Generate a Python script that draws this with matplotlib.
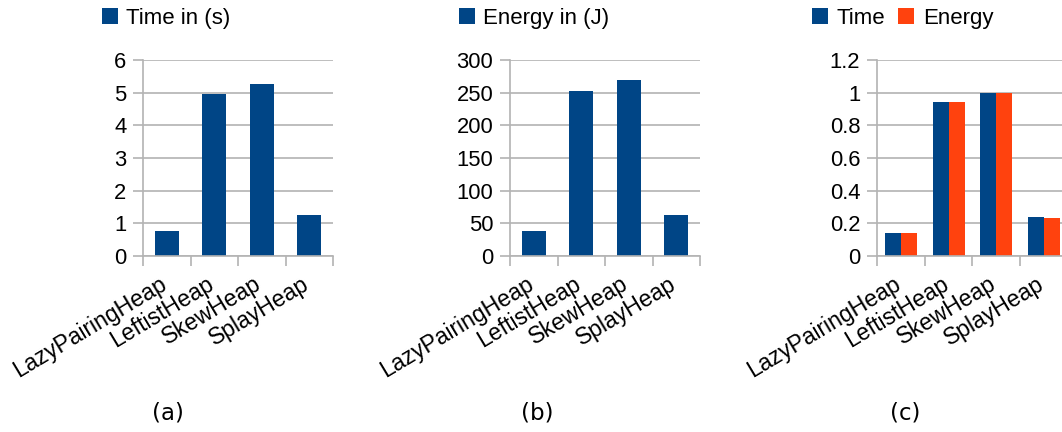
import matplotlib
matplotlib.use("Agg")
import matplotlib.pyplot as plt
import numpy as np

# data
heaps = ["LazyPairingHeap", "LeftistHeap", "SkewHeap", "SplayHeap"]
time_s = [0.77, 4.96, 5.26, 1.26]
energy_j = [38, 252, 269, 63]
time_norm = [0.141, 0.943, 1.0, 0.239]
energy_norm = [0.141, 0.943, 1.0, 0.233]

blue = "#004586"
orange = "#ff420e"
grid_c = "#b3b3b3"
fs = 15.8

plt.rcParams["font.family"] = ["Liberation Sans", "DejaVu Sans"]

W, H = 1062, 432
fig = plt.figure(figsize=(W / 100, H / 100), dpi=100)


def px_axes(x0, x1, y_top, y_bot):
    return fig.add_axes([x0 / W, 1 - y_bot / H, (x1 - x0) / W, (y_bot - y_top) / H])


def style(ax, ymax, step, fmt):
    x = np.arange(len(heaps))
    ax.set_xlim(-0.5, len(heaps) - 0.5)
    ax.set_ylim(0, ymax)
    yt = np.arange(0, ymax + step / 2, step)
    ax.set_yticks(yt)
    ax.set_yticklabels([fmt(v) for v in yt], fontsize=fs)
    ax.yaxis.grid(True, color=grid_c, linewidth=1.2)
    ax.set_axisbelow(True)
    for s in ["top", "right"]:
        ax.spines[s].set_visible(False)
    for s in ["left", "bottom"]:
        ax.spines[s].set_color(grid_c)
        ax.spines[s].set_linewidth(1.2)
    ax.tick_params(axis="y", length=7, color=grid_c, width=1.2, pad=5)
    # category boundary ticks
    ax.set_xticks(np.arange(-0.5, len(heaps)), minor=False)
    ax.set_xticklabels([""] * (len(heaps) + 1))
    ax.tick_params(axis="x", length=7, color=grid_c, width=1.2)
    for i, name in enumerate(heaps):
        ax.annotate(name, xy=(x[i], 0), xycoords=("data", "axes fraction"),
                    xytext=(-8, -16), textcoords="offset pixels",
                    rotation=31, rotation_mode="anchor", ha="right", va="top",
                    fontsize=16.6)


def leg(ax, x_px, handles, labels):
    ax.legend(handles, labels, loc="upper left",
              bbox_to_anchor=(x_px / W, 1 - 8 / H), bbox_transform=fig.transFigure,
              ncol=len(labels), frameon=False, fontsize=16,
              handlelength=0.7, handleheight=0.7, handletextpad=0.4,
              columnspacing=0.6, borderpad=0, borderaxespad=0)


x = np.arange(len(heaps))

# (a) time
ax1 = px_axes(143, 333, 60, 256)
b1 = ax1.bar(x, time_s, width=0.5, color=blue)
style(ax1, 6, 1, lambda v: f"{v:g}")
leg(ax1, 102, [b1], ["Time in (s)"])

# (b) energy
ax2 = px_axes(510, 700, 60, 256)
b2 = ax2.bar(x, energy_j, width=0.5, color=blue)
style(ax2, 300, 50, lambda v: f"{v:g}")
leg(ax2, 459, [b2], ["Energy in (J)"])

# (c) normalised
ax3 = px_axes(877, 1068, 60, 256)
w = 0.335
b3 = ax3.bar(x - w / 2, time_norm, width=w, color=blue)
b4 = ax3.bar(x + w / 2, energy_norm, width=w, color=orange)
style(ax3, 1.2, 0.2, lambda v: f"{v:.1f}".rstrip("0").rstrip(".") if v else "0")
leg(ax3, 812, [b3, b4], ["Time", "Energy"])

for xc, lab in [(168, "(a)"), (537, "(b)"), (905, "(c)")]:
    fig.text(xc / W, 1 - 413 / H, lab, ha="center", va="center",
             fontsize=16.5, family="DejaVu Sans")

fig.savefig("out.png", dpi=100)
